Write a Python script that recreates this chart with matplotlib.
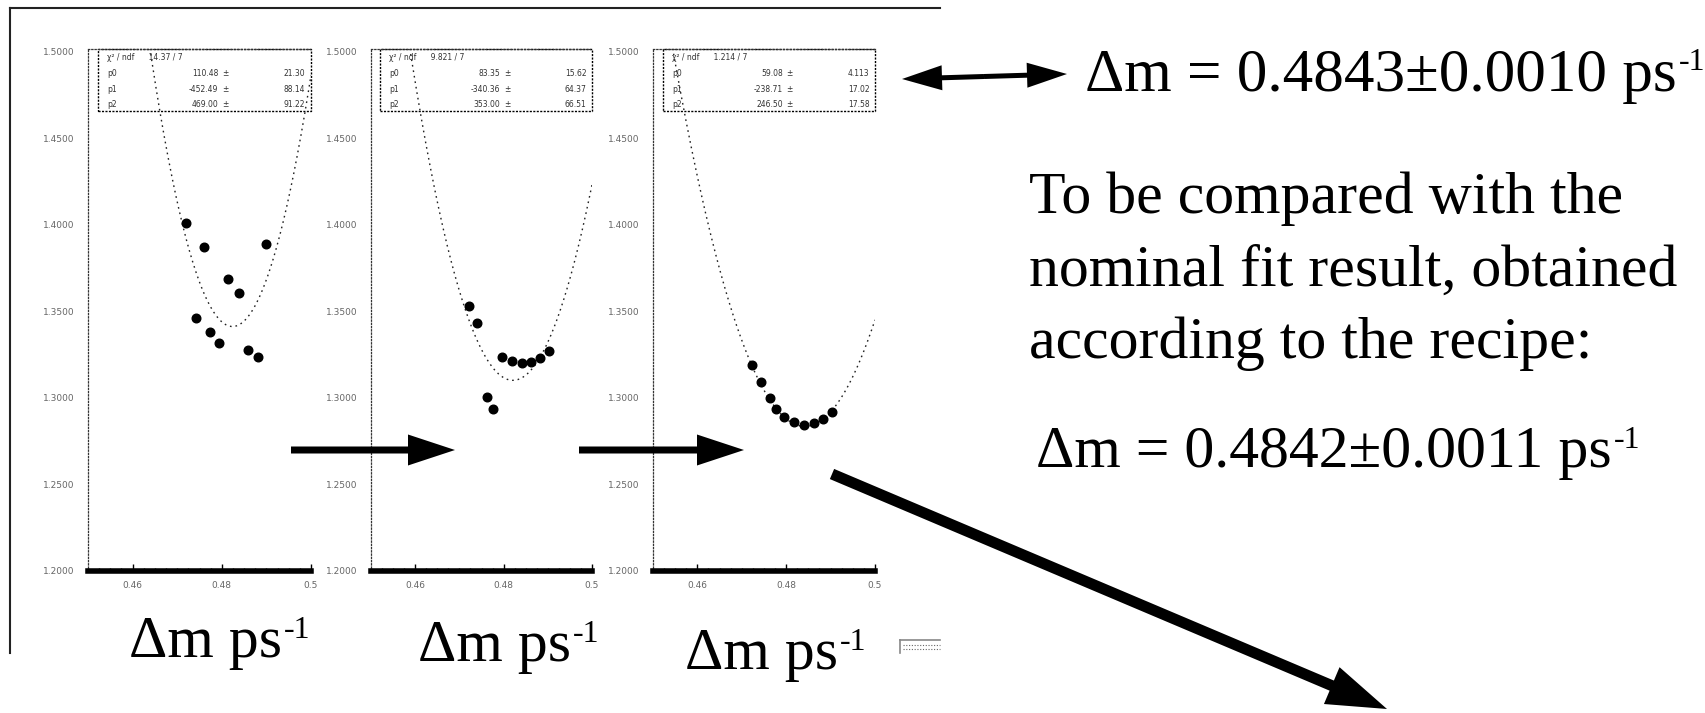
import matplotlib
matplotlib.use("Agg")
import matplotlib.pyplot as plt
import numpy as np
from matplotlib.patches import FancyArrow, Rectangle
from matplotlib.lines import Line2D
from matplotlib.text import Annotation
from matplotlib.transforms import Affine2D
from matplotlib.ticker import FixedLocator, FixedFormatter, MultipleLocator

# ------------------------------------------------------------------ data
# scan points (Delta m [ps^-1], fit figure of merit) for the three iterations
dm_scan_1 = [0.4720, 0.4742, 0.4760, 0.4774, 0.4794, 0.4814, 0.4839, 0.4859, 0.4881, 0.4899]
fom_scan_1 = [1.4013, 1.3465, 1.3875, 1.3384, 1.3315, 1.3690, 1.3609, 1.3275, 1.3234, 1.3892]

dm_scan_2 = [0.4722, 0.4740, 0.4762, 0.4776, 0.4796, 0.4819, 0.4842, 0.4862, 0.4882, 0.4903]
fom_scan_2 = [1.3529, 1.3431, 1.3004, 1.2934, 1.3234, 1.3211, 1.3200, 1.3206, 1.3229, 1.3269]

dm_scan_3 = [0.4723, 0.4743, 0.4763, 0.4777, 0.4795, 0.4818, 0.4840, 0.4863, 0.4883, 0.4903]
fom_scan_3 = [1.3188, 1.3090, 1.2998, 1.2934, 1.2888, 1.2859, 1.2842, 1.2854, 1.2877, 1.2917]

# parabolic fit of each scan (vertex form): position, minimum, curvature
fit_dm0 = [0.4824, 0.4821, 0.4842]
fit_min = [1.3413, 1.3102, 1.2836]
fit_curv = [469.0, 353.0, 246.5]

# stat-box contents
stat_chi2 = ["14.37 / 7", "9.821 / 7", "1.214 / 7"]
stat_err = [["21.30", "88.14", "91.22"],
            ["15.62", "64.37", "66.51"],
            ["4.113", "17.02", "17.58"]]

x_ticks = [0.46, 0.48, 0.50]
x_tick_labels = ["0.46", "0.48", "0.5"]
y_ticks = [1.20, 1.25, 1.30, 1.35, 1.40, 1.45, 1.50]
y_tick_labels = ["1.2000", "1.2500", "1.3000", "1.3500", "1.4000", "1.4500", "1.5000"]

axis_label = "\u0394m ps"
label_sup = "-1"
result_fit = "\u0394m = 0.4843\u00b10.0010 ps"
comparison_lines = ["To be compared with the",
                    "nominal fit result, obtained",
                    "according to the recipe:"]
result_nominal = "\u0394m = 0.4842\u00b10.0011 ps"

scans = [(dm_scan_1, fom_scan_1), (dm_scan_2, fom_scan_2), (dm_scan_3, fom_scan_3)]

# ------------------------------------------------------------------ figure
W, H = 1706, 713
fig = plt.figure(figsize=(W / 100, H / 100), dpi=100)
fig.patch.set_facecolor("white")
PX = Affine2D().scale(1.0 / W, -1.0 / H).translate(0, 1) + fig.transFigure

SERIF = "Liberation Serif"
SANS = "DejaVu Sans"

panel_px = [(88, 311), (371, 592), (653, 875)]
top_px, bot_px = 49, 571
box_left_px = [98, 380, 663]

for i, ((l, r), (xs_d, ys_d)) in enumerate(zip(panel_px, scans)):
    ax = fig.add_axes([l / W, 1 - bot_px / H, (r - l) / W, (bot_px - top_px) / H])
    ax.set_facecolor("none")
    ax.set_xlim(0.45, 0.50)
    ax.set_ylim(1.20, 1.5017)

    # fitted parabola (dotted)
    xx = np.linspace(0.45, 0.50, 500)
    yy = fit_min[i] + fit_curv[i] * (xx - fit_dm0[i]) ** 2
    ax.plot(xx, yy, color="#222222", lw=1.0, linestyle=(0, (1.2, 2.8)))

    # scan points
    ax.plot(xs_d, ys_d, "o", ms=6.2, color="black", mec="black", clip_on=False, zorder=5)

    # spines
    for s in ("left", "top"):
        ax.spines[s].set_linestyle((0, (1, 1.6)))
        ax.spines[s].set_linewidth(0.9)
        ax.spines[s].set_edgecolor("#333333")
    ax.spines["right"].set_visible(False)
    ax.spines["bottom"].set_linewidth(4.0)

    ax.xaxis.set_major_locator(FixedLocator(x_ticks))
    ax.xaxis.set_major_formatter(FixedFormatter(x_tick_labels))
    ax.xaxis.set_minor_locator(MultipleLocator(0.0025))
    ax.tick_params(axis="x", which="major", direction="in", length=5, width=1,
                   pad=7, labelsize=6.5, labelcolor="#666666", top=False)
    ax.tick_params(axis="x", which="minor", direction="in", length=2.5, width=1, top=False)
    ax.set_yticks(y_ticks)
    ax.set_yticklabels(y_tick_labels)
    ax.tick_params(axis="y", length=0, pad=9.4, labelsize=6.5, labelcolor="#666666")
    for lab in ax.get_xticklabels() + ax.get_yticklabels():
        lab.set_family(SANS)

    # stat box
    bx = (box_left_px[i] - l) / (r - l)
    by = (bot_px - 111) / (bot_px - top_px)
    ax.add_patch(Rectangle((bx, by), 1 - bx, 1 - by, transform=ax.transAxes, fill=False,
                           ec="black", lw=1.0, linestyle=(0, (1.5, 1)), clip_on=False))
    p2 = fit_curv[i]
    p1 = -2 * fit_curv[i] * fit_dm0[i]
    p0 = fit_min[i] + fit_curv[i] * fit_dm0[i] ** 2
    rows_y = [(bot_px - y) / (bot_px - top_px) for y in (58, 74, 90, 105)]
    tk = dict(transform=ax.transAxes, fontsize=5.5, color="#333333", family=SANS, va="center")
    lx = bx + 0.04
    ax.text(lx, rows_y[0], "\u03c7\u00b2 / ndf      " + stat_chi2[i], ha="left", **tk)
    for j, (name, val) in enumerate(zip(["p0", "p1", "p2"], [p0, p1, p2])):
        ax.text(lx, rows_y[j + 1], name, ha="left", **tk)
        ax.text(0.585, rows_y[j + 1], f"{val:.2f}", ha="right", **tk)
        ax.text(0.615, rows_y[j + 1], "\u00b1", ha="center", **tk)
        ax.text(0.975, rows_y[j + 1], stat_err[i][j], ha="right", **tk)


# ------------------------------------------------------------------ text helpers
def sup_text(x, y, main, size, supsize):
    t = fig.text(x, y, main, transform=PX, fontsize=size, family=SERIF,
                 ha="left", va="baseline", color="black")
    a = Annotation(label_sup, xy=(1, 1), xycoords=t, xytext=(1.5, 0),
                   textcoords="offset points", ha="left", va="top",
                   fontsize=supsize, family=SERIF, color="black")
    fig.add_artist(a)
    return t


for (x, y) in [(129, 657), (418, 661), (685, 669)]:
    sup_text(x, y, axis_label, 43, 23)

sup_text(1085, 91, result_fit, 44, 23)
for k, (line, yb) in enumerate(zip(comparison_lines, [213, 286, 358])):
    fig.text(1029, yb, line, transform=PX, fontsize=43, family=SERIF,
             ha="left", va="baseline", color="black")
sup_text(1036, 467, result_nominal, 43, 23)


# ------------------------------------------------------------------ arrows & frame
def arrow(x0, y0, x1, y1, w, hw, hl):
    fig.add_artist(FancyArrow(x0, y0, x1 - x0, y1 - y0, width=w, head_width=hw,
                              head_length=hl, length_includes_head=True,
                              transform=PX, color="black", lw=0))


arrow(291, 450, 455, 450, 7, 31, 47)
arrow(579, 450, 744, 450, 7, 31, 47)
arrow(832, 474, 1387, 709, 11, 40, 60)
arrow(984, 76.5, 902, 79, 5, 25, 40)
arrow(984, 76.5, 1067, 74, 5, 25, 40)

fig.add_artist(Line2D([10, 940], [8, 8], transform=PX, color="#222222", lw=1.5))
fig.add_artist(Line2D([10, 10], [8, 653], transform=PX, color="#222222", lw=1.5))

# small legend-like box at lower right of the plot frame
fig.add_artist(Line2D([900, 940], [640, 640], transform=PX, color="#888888", lw=1.2))
fig.add_artist(Line2D([900, 900], [640, 653], transform=PX, color="#888888", lw=1.2))
for yy_ in (645, 649):
    fig.add_artist(Line2D([903, 940], [yy_, yy_], transform=PX, color="#666666",
                          lw=0.8, linestyle=(0, (1, 1.5))))

fig.savefig("out.png", dpi=100)
